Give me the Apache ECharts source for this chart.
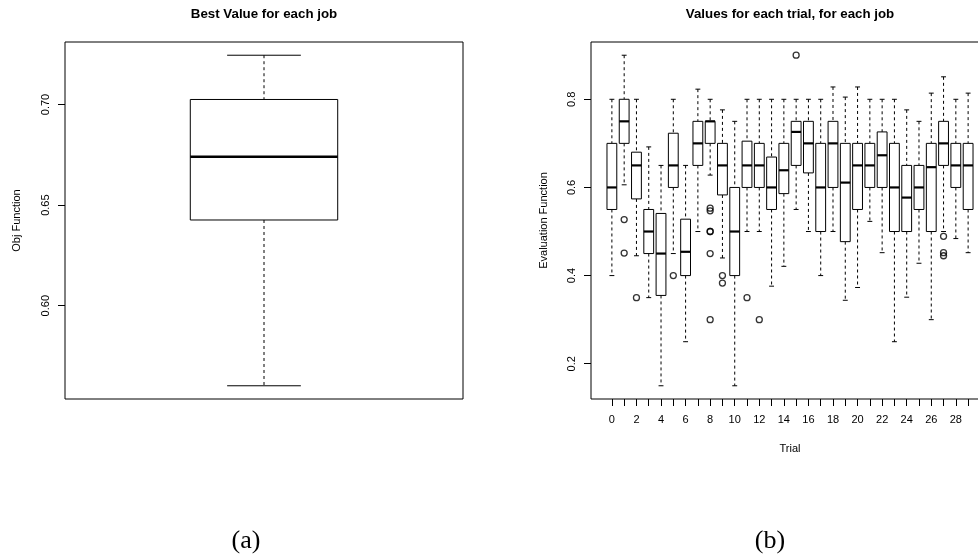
<!DOCTYPE html>
<html>
<head>
<meta charset="utf-8">
<script src="https://cdn.jsdelivr.net/npm/echarts@6/dist/echarts.min.js"></script>
<style>
  html, body { margin: 0; padding: 0; background: #fff; overflow: hidden; }
  /* the right-hand frame runs a little past the page edge */
  #chart { width: 1000px; height: 558px; }
</style>
</head>
<body>
<div id="chart"></div>
<script>
// (a) best objective value per job: one five-number summary
const bestStats = [0.5602, 0.6426, 0.674, 0.7025, 0.7245]; // min, Q1, median, Q3, max

// (b) evaluation function per trial
const trials = [0, 1, 2, 3, 4, 5, 6, 7, 8, 9, 10, 11, 12, 13, 14, 15, 16, 17, 18, 19, 20, 21, 22, 23, 24, 25, 26, 27, 28, 29];
const trialMin = [0.40, 0.606, 0.445, 0.35, 0.15, 0.45, 0.25, 0.50, 0.628, 0.44, 0.15, 0.50, 0.50, 0.376, 0.421, 0.55, 0.50, 0.40, 0.50, 0.344, 0.373, 0.523, 0.452, 0.25, 0.351, 0.428, 0.30, 0.50, 0.484, 0.452];
const trialQ1 = [0.55, 0.70, 0.574, 0.45, 0.355, 0.60, 0.40, 0.65, 0.70, 0.583, 0.40, 0.60, 0.60, 0.55, 0.586, 0.65, 0.633, 0.50, 0.60, 0.477, 0.55, 0.60, 0.60, 0.50, 0.50, 0.55, 0.50, 0.65, 0.60, 0.55];
const trialMedian = [0.60, 0.75, 0.65, 0.50, 0.45, 0.65, 0.454, 0.70, 0.75, 0.65, 0.50, 0.65, 0.65, 0.60, 0.639, 0.726, 0.70, 0.60, 0.70, 0.611, 0.65, 0.65, 0.673, 0.60, 0.577, 0.60, 0.646, 0.70, 0.65, 0.65];
const trialQ3 = [0.70, 0.80, 0.68, 0.55, 0.541, 0.723, 0.528, 0.75, 0.75, 0.70, 0.60, 0.705, 0.70, 0.669, 0.70, 0.75, 0.75, 0.70, 0.75, 0.70, 0.70, 0.70, 0.726, 0.70, 0.65, 0.65, 0.70, 0.75, 0.70, 0.70];
const trialMax = [0.80, 0.90, 0.80, 0.692, 0.65, 0.80, 0.65, 0.823, 0.80, 0.776, 0.75, 0.80, 0.80, 0.80, 0.80, 0.80, 0.80, 0.80, 0.828, 0.805, 0.828, 0.80, 0.80, 0.80, 0.776, 0.75, 0.814, 0.851, 0.80, 0.814];

const outlierTrial = [1, 1, 2, 5, 8, 8, 8, 8, 8, 8, 9, 9, 11, 12, 15, 27, 27, 27];
const outlierValue = [0.527, 0.451, 0.35, 0.40, 0.553, 0.547, 0.50, 0.50, 0.45, 0.30, 0.40, 0.383, 0.35, 0.30, 0.90, 0.489, 0.452, 0.445];

const bestTicks = [0.60, 0.65, 0.70];
const evalTicks = [0.2, 0.4, 0.6, 0.8];
const trialLabels = [0, 2, 4, 6, 8, 10, 12, 14, 16, 18, 20, 22, 24, 26, 28];

const SANS = "'Liberation Sans', Arial, Helvetica, sans-serif";

// axis ranges padded by 4% on each side
function padRange(lo, hi) {
  const d = (hi - lo) * 0.04;
  return [lo - d, hi + d];
}
const bestY = padRange(Math.min(...bestStats), Math.max(...bestStats));
const evalY = padRange(Math.min(...trialMin, ...outlierValue), Math.max(...trialMax, ...outlierValue));
const bestX = padRange(0.5, 1.5);
const evalX = padRange(trials[0] - 0.5, trials[trials.length - 1] + 0.5);

// box + dashed whiskers + staples + heavy median
function boxRenderer(boxW, capW, medW) {
  return function (params, api) {
    const x = api.value(0);
    const lo = api.coord([x, api.value(1)]);
    const q1 = api.coord([x, api.value(2)]);
    const md = api.coord([x, api.value(3)]);
    const q3 = api.coord([x, api.value(4)]);
    const hi = api.coord([x, api.value(5)]);
    const hw = api.size([boxW, 0])[0] / 2;
    const cw = api.size([capW, 0])[0] / 2;
    const cx = lo[0];
    const dashed = { stroke: '#000', lineWidth: 1, lineDash: [3, 3] };
    const solid = { stroke: '#000', lineWidth: 1 };
    return {
      type: 'group',
      children: [
        { type: 'line', shape: { x1: cx, y1: hi[1], x2: cx, y2: q3[1] }, style: dashed },
        { type: 'line', shape: { x1: cx, y1: q1[1], x2: cx, y2: lo[1] }, style: dashed },
        { type: 'line', shape: { x1: cx - cw, y1: hi[1], x2: cx + cw, y2: hi[1] }, style: solid },
        { type: 'line', shape: { x1: cx - cw, y1: lo[1], x2: cx + cw, y2: lo[1] }, style: solid },
        { type: 'rect', shape: { x: cx - hw, y: q3[1], width: hw * 2, height: q1[1] - q3[1] },
          style: { fill: '#fff', stroke: '#000', lineWidth: 1 } },
        { type: 'line', shape: { x1: cx - hw, y1: md[1], x2: cx + hw, y2: md[1] },
          style: { stroke: '#000', lineWidth: medW } }
      ]
    };
  };
}

const bestData = [[1].concat(bestStats)];
const evalData = trials.map((t, i) => [t, trialMin[i], trialQ1[i], trialMedian[i], trialQ3[i], trialMax[i]]);
const outlierData = outlierTrial.map((t, i) => [t, outlierValue[i]]);

const chart = echarts.init(document.getElementById('chart'), null, { renderer: 'canvas' });

const yLabelStyle = { color: '#000', fontFamily: SANS, fontSize: 11, rotate: 90, margin: 14 };
const tickStyle = { show: true, length: 7, inside: false, lineStyle: { color: '#000', width: 1 } };
const noLine = { show: false, onZero: false };

chart.setOption({
  animation: false,
  backgroundColor: '#fff',
  grid: [
    { left: 65, top: 42, width: 398, height: 357, show: true, borderColor: '#000', borderWidth: 1, backgroundColor: 'transparent' },
    { left: 591, top: 42, width: 398, height: 357, show: true, borderColor: '#000', borderWidth: 1, backgroundColor: 'transparent' }
  ],
  xAxis: [
    { gridIndex: 0, type: 'value', min: bestX[0], max: bestX[1], show: false, axisLine: noLine, splitLine: { show: false } },
    {
      gridIndex: 1, type: 'value', min: evalX[0], max: evalX[1],
      axisLine: noLine, splitLine: { show: false },
      axisTick: Object.assign({ customValues: trials }, tickStyle),
      axisLabel: { customValues: trialLabels, color: '#000', fontFamily: SANS, fontSize: 11, margin: 15 },
      name: 'Trial', nameLocation: 'middle', nameGap: 44,
      nameTextStyle: { color: '#000', fontFamily: SANS, fontSize: 11 }
    }
  ],
  yAxis: [
    {
      gridIndex: 0, type: 'value', min: bestY[0], max: bestY[1],
      axisLine: noLine, splitLine: { show: false },
      axisTick: Object.assign({ customValues: bestTicks }, tickStyle),
      axisLabel: Object.assign({ customValues: bestTicks, formatter: v => v.toFixed(2) }, yLabelStyle),
      name: 'Obj Function', nameLocation: 'middle', nameGap: 43, nameRotate: 90,
      nameTextStyle: { color: '#000', fontFamily: SANS, fontSize: 11 }
    },
    {
      gridIndex: 1, type: 'value', min: evalY[0], max: evalY[1],
      axisLine: noLine, splitLine: { show: false },
      axisTick: Object.assign({ customValues: evalTicks }, tickStyle),
      axisLabel: Object.assign({ customValues: evalTicks, formatter: v => v.toFixed(1) }, yLabelStyle),
      name: 'Evaluation Function', nameLocation: 'middle', nameGap: 42, nameRotate: 90,
      nameTextStyle: { color: '#000', fontFamily: SANS, fontSize: 11 }
    }
  ],
  series: [
    { type: 'custom', xAxisIndex: 0, yAxisIndex: 0, data: bestData, renderItem: boxRenderer(0.4, 0.2, 2.5), clip: false },
    { type: 'custom', xAxisIndex: 1, yAxisIndex: 1, data: evalData, renderItem: boxRenderer(0.8, 0.4, 2.2), clip: false },
    {
      type: 'scatter', xAxisIndex: 1, yAxisIndex: 1, data: outlierData,
      symbol: 'circle', symbolSize: 6,
      itemStyle: { color: 'transparent', borderColor: '#000', borderWidth: 1.3 }
    }
  ],
  graphic: [
    { type: 'text', x: 264, y: 14, style: { text: 'Best Value for each job', align: 'center', verticalAlign: 'middle',
      font: "bold 13.3px 'Liberation Sans', Arial, sans-serif", fill: '#000' } },
    { type: 'text', x: 790, y: 14, style: { text: 'Values for each trial, for each job', align: 'center', verticalAlign: 'middle',
      font: "bold 13.3px 'Liberation Sans', Arial, sans-serif", fill: '#000' } },
    { type: 'text', x: 246, y: 541, style: { text: '(a)', align: 'center', verticalAlign: 'middle',
      font: "26px 'Liberation Serif', 'Times New Roman', serif", fill: '#000' } },
    { type: 'text', x: 770, y: 541, style: { text: '(b)', align: 'center', verticalAlign: 'middle',
      font: "26px 'Liberation Serif', 'Times New Roman', serif", fill: '#000' } }
  ]
});
</script>
</body>
</html>
